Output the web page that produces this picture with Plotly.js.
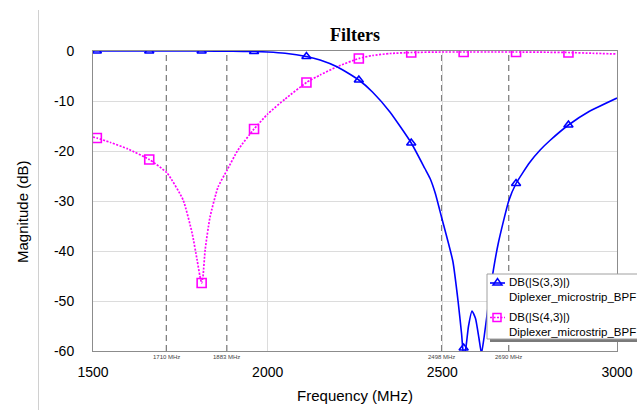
<!DOCTYPE html>
<html>
<head>
<meta charset="utf-8">
<script src="https://cdn.plot.ly/plotly-3.0.1.min.js"></script>
<style>html,body{margin:0;padding:0;background:#fff;}#chart{width:637px;height:410px;}</style>
</head>
<body>
<div id="chart"></div>
<script>
// ---- data ----
const freqS33 = [1500, 1600, 1700, 1800, 1900, 1961, 2000, 2050, 2111, 2150, 2200, 2261, 2300, 2350, 2411, 2450, 2465, 2480, 2498, 2530, 2545, 2555, 2561, 2567, 2575, 2585, 2595, 2605, 2612, 2620, 2640, 2660, 2690, 2711, 2750, 2780, 2808, 2861, 2920, 3000];
const dbS33   = [0, 0, 0, 0, -0.05, -0.1, -0.2, -0.45, -1.1, -1.8, -3.2, -5.8, -8.2, -12.2, -18.4, -23.5, -25.5, -28.5, -33.3, -42, -50, -56.5, -61, -59.5, -55, -52, -53.5, -57.5, -60.5, -57, -46.5, -38.5, -30, -26.5, -22.3, -19.8, -17.9, -14.8, -12.1, -9.4];

const freqS43 = [1500, 1511, 1550, 1600, 1661, 1712, 1758, 1784, 1798, 1806, 1811, 1815, 1821, 1835, 1858, 1884, 1915, 1961, 2000, 2050, 2111, 2150, 2200, 2261, 2300, 2350, 2411, 2500, 2561, 2650, 2711, 2800, 2861, 2930, 3000];
const dbS43   = [-17.2, -17.4, -18.3, -19.6, -21.7, -24.4, -29.8, -36.5, -41.8, -45, -46.4, -45, -39.8, -33.2, -27.2, -23.8, -19.8, -15.6, -12.6, -9.6, -6.3, -4.8, -3.1, -1.5, -0.9, -0.5, -0.3, -0.2, -0.2, -0.2, -0.2, -0.25, -0.3, -0.45, -0.6];

const markerFreq = [1511, 1661, 1811, 1961, 2111, 2261, 2411, 2561, 2711, 2861];
const markerS33  = [0, 0, 0, -0.1, -1.1, -5.8, -18.4, -59.4, -26.5, -14.8];
const markerS43  = [-17.4, -21.7, -46.4, -15.6, -6.3, -1.5, -0.3, -0.2, -0.2, -0.3];

const refFreqs  = [1710, 1883, 2498, 2690];
const refLabels = ['1710 MHz', '1883 MHz', '2498 MHz', '2690 MHz'];

const xTicks = [1500, 2000, 2500, 3000];
const yTicks = [0, -10, -20, -30, -40, -50, -60];

const legendNames = ['DB(|S(3,3)|)<br>Diplexer_microstrip_BPF', 'DB(|S(4,3)|)<br>Diplexer_microstrip_BPF'];
const yTitle = 'Magnitude (dB)';
const xTitle = 'Frequency (MHz)';

// ---- layout geometry ----
const W = 637, H = 410, ML = 93, MR = 20, MT = 51, MB = 59;
const PW = W - ML - MR, PH = H - MT - MB;
const px = x => (x - ML) / PW;
const py = y => 1 - (y - MT) / PH;

const BLUE = '#0000ff', PINK = '#ff00ff';

const traces = [
  {x: freqS43, y: dbS43, mode: 'lines', line: {color: PINK, width: 1.7, dash: '2px,1.5px', shape: 'spline', smoothing: 0.5}, showlegend: false, hoverinfo: 'skip'},
  {x: markerFreq, y: markerS43, mode: 'markers', marker: {symbol: 'square-open', size: 9, color: PINK, line: {width: 1.6, color: PINK}}, showlegend: false},
  {x: freqS33, y: dbS33, mode: 'lines', line: {color: BLUE, width: 1.6, shape: 'spline', smoothing: 0.5}, showlegend: false, hoverinfo: 'skip'},
  {x: markerFreq, y: markerS33, mode: 'markers', marker: {symbol: 'triangle-up-open', size: 8, color: BLUE, line: {width: 1.6, color: BLUE}}, showlegend: false}
];

const shapes = [];
refFreqs.forEach(f => shapes.push({type: 'line', xref: 'x', yref: 'paper', x0: f, x1: f, y0: 0, y1: 1, layer: 'between', line: {color: '#808080', width: 1.3, dash: '6px,4px'}}));
// left separator line
shapes.push({type: 'line', xref: 'paper', yref: 'paper', x0: px(38.5), x1: px(38.5), y0: py(10), y1: py(412), line: {color: '#d0d0d0', width: 1}});
// legend box + shadow
shapes.push({type: 'rect', xref: 'paper', yref: 'paper', x0: px(490), x1: px(680), y0: py(277), y1: py(342), fillcolor: '#7a7a7a', line: {width: 0}});
shapes.push({type: 'rect', xref: 'paper', yref: 'paper', x0: px(487), x1: px(680), y0: py(274), y1: py(339), fillcolor: '#ffffff', line: {color: '#a0a0a0', width: 1}});
// legend symbols
shapes.push({type: 'line', xref: 'paper', yref: 'paper', x0: px(490), x1: px(505), y0: py(283), y1: py(283), line: {color: BLUE, width: 1.6}});
shapes.push({type: 'path', xref: 'paper', yref: 'paper', path: `M${px(493)},${py(285)} L${px(502)},${py(285)} L${px(497.5)},${py(278.5)} Z`, line: {color: BLUE, width: 1.5}});
shapes.push({type: 'line', xref: 'paper', yref: 'paper', x0: px(490), x1: px(505), y0: py(317.5), y1: py(317.5), line: {color: PINK, width: 1.7, dash: '2px,1.5px'}});
shapes.push({type: 'rect', xref: 'paper', yref: 'paper', x0: px(493), x1: px(501), y0: py(313.5), y1: py(321.5), line: {color: PINK, width: 1.5}});

const annotations = [];
refFreqs.forEach((f, i) => annotations.push({x: f, xref: 'x', yref: 'paper', y: py(357), text: refLabels[i], showarrow: false, font: {family: 'Liberation Sans, Arial', size: 6, color: '#444'}, xanchor: 'center', yanchor: 'middle'}));
annotations.push({xref: 'paper', yref: 'paper', x: px(507), y: py(289), text: legendNames[0], showarrow: false, xanchor: 'left', yanchor: 'middle', align: 'left', font: {family: 'Liberation Sans, Arial', size: 11.5, color: '#000'}});
annotations.push({xref: 'paper', yref: 'paper', x: px(507), y: py(324.5), text: legendNames[1], showarrow: false, xanchor: 'left', yanchor: 'middle', align: 'left', font: {family: 'Liberation Sans, Arial', size: 11.5, color: '#000'}});
// y-axis title (placed as in the reference, slightly below the plot centre)
annotations.push({xref: 'paper', yref: 'paper', x: px(22), y: py(212), text: yTitle, textangle: -90, showarrow: false, xanchor: 'center', yanchor: 'middle', font: {family: 'Liberation Sans, Arial', size: 15, color: '#000'}});

const layout = {
  width: W, height: H,
  margin: {l: ML, r: MR, t: MT, b: MB, pad: 0},
  paper_bgcolor: '#ffffff', plot_bgcolor: '#ffffff',
  showlegend: false,
  font: {family: 'Liberation Sans, Arial', size: 14, color: '#000'},
  title: {text: '<b>Filters</b>', font: {family: 'Liberation Serif, Times New Roman', size: 18, color: '#000'}, xref: 'paper', x: 0.5, xanchor: 'center', yref: 'container', y: 1 - 35 / H, yanchor: 'middle'},
  xaxis: {
    range: [1500, 3000], tickvals: xTicks, ticktext: xTicks.map(String),
    showgrid: true, gridcolor: '#dcdcdc', gridwidth: 1, zeroline: false,
    showline: true, mirror: true, linecolor: '#8c8c8c', linewidth: 1,
    ticks: '', ticklabelstandoff: 8, tickfont: {size: 14},
    title: {text: xTitle, font: {size: 15}, standoff: 11}, automargin: false, fixedrange: true
  },
  yaxis: {
    range: [-60, 0], tickvals: yTicks, ticktext: yTicks.map(String),
    showgrid: true, gridcolor: '#dcdcdc', gridwidth: 1, zeroline: false,
    showline: true, mirror: true, linecolor: '#8c8c8c', linewidth: 1,
    ticks: '', ticklabelstandoff: 15, tickfont: {size: 14},
    automargin: false, fixedrange: true
  },
  shapes: shapes,
  annotations: annotations
};

Plotly.newPlot('chart', traces, layout, {displayModeBar: false, staticPlot: true});
</script>
</body>
</html>
